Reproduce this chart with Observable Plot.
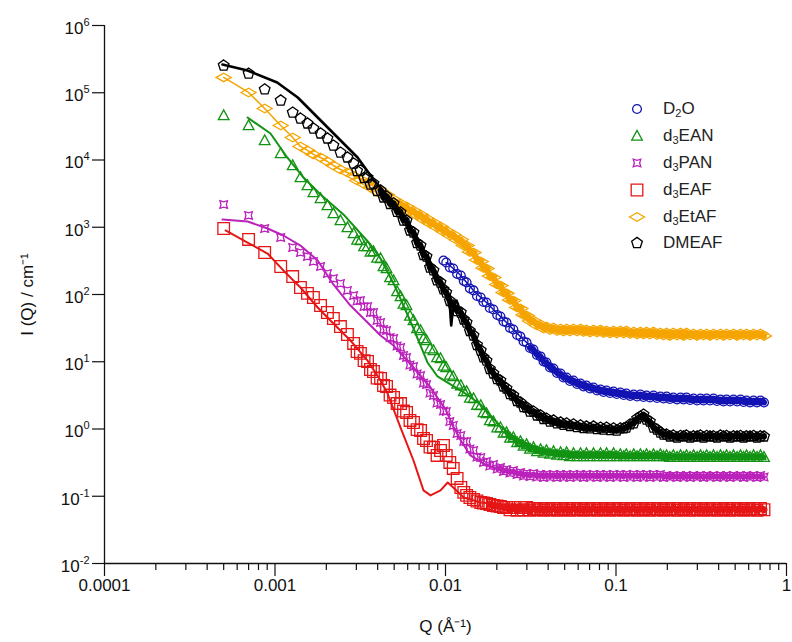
<!DOCTYPE html>
<html><head><meta charset="utf-8">
<script src="https://cdn.jsdelivr.net/npm/d3@7"></script>
<script src="https://cdn.jsdelivr.net/npm/@observablehq/plot@0.6"></script>
<style>
html,body{margin:0;padding:0;background:#fff;}
#wrap{position:relative;width:792px;height:642px;font-family:"Liberation Sans",Arial,sans-serif;}
#legend{position:absolute;left:624px;top:96px;}
.row{display:flex;align-items:center;height:26.8px;font-size:17px;color:#222;white-space:nowrap;}
.row svg{width:26px;height:20px;margin-right:13px;flex:none;}
.row sub{font-size:11px;vertical-align:-3px;line-height:0;}
</style></head><body><div id="wrap"><div id="legend"></div></div>
<script>
// ---------- data ----------
const seriesNames = ["D2O", "d3EAN", "d3PAN", "d3EAF", "d3EtAF", "DMEAF"];

// Q grid of the first set of measured points (Å⁻¹)
const Q = [0.0005,0.0007,0.00087,0.00108,0.00127,0.00141,0.00155,0.00168,0.00185,0.00203,
0.0022,0.00242,0.00266,0.00289,0.00317,0.00349,0.00378,0.00416,0.00451,0.00496,
0.00545,0.00591,0.00649,0.00714,0.00774,0.0085,0.00935,0.0101,0.0111,0.0123,
0.0133,0.0146,0.0161,0.0174,0.0191,0.021,0.0228,0.025,0.0275,0.0299,
0.0328,0.0361,0.0391,0.043,0.0473,0.0513,0.0563,0.0619,0.0671,0.0738,
0.0811,0.088,0.0967,0.106,0.115,0.127,0.139,0.151,0.166,0.182,
0.198,0.217,0.239,0.259,0.285,0.313,0.34,0.373,0.41,0.445,
0.489,0.537,0.583,0.641,0.704];

const I_D2O = [null,null,null,null,null,null,null,null,null,null,
null,null,null,null,null,null,null,null,null,null,
null,null,null,null,null,null,null,299,244,192,
151,115,90.2,76.0,59.8,47.1,38.3,30.2,23.7,19.3,
15.2,12.0,9.75,7.94,6.69,5.83,5.26,4.75,4.43,4.14,
3.87,3.74,3.61,3.49,3.37,3.26,3.26,3.15,3.15,3.04,
3.04,2.94,2.94,2.94,2.84,2.84,2.84,2.84,2.75,2.75,
2.75,2.75,2.65,2.65,2.65];
const I_d3EAN = [45900,32600,19500,12500,8280,5490,4180,3290,2680,2110,
1600,1260,992,807,635,517,436,343,244,162,
93.4,68.6,41.1,29.2,20.7,14.7,11.2,8.21,6.04,4.43,
3.61,2.84,2.24,1.70,1.29,1.05,0.887,0.748,0.652,0.588,
0.531,0.496,0.479,0.463,0.447,0.447,0.432,0.432,0.432,0.432,
0.432,0.432,0.432,0.418,0.418,0.418,0.418,0.418,0.418,0.418,
0.404,0.404,0.404,0.404,0.404,0.404,0.404,0.404,0.404,0.404,
0.404,0.404,0.404,0.404,0.404];
const I_d3PAN = [2180,1500,958,704,500,421,367,310,261,205,
173,146,115,96.6,81.4,66.3,54.0,38.3,29.2,22.2,
16.3,11.6,8.50,6.25,4.59,3.15,2.31,1.82,1.13,0.80,
0.652,0.479,0.377,0.329,0.297,0.268,0.250,0.241,0.225,0.218,
0.218,0.211,0.211,0.211,0.211,0.211,0.211,0.211,0.211,0.211,
0.211,0.211,0.211,0.211,0.211,0.211,0.211,0.211,0.211,0.211,
0.203,0.203,0.203,0.203,0.203,0.203,0.203,0.203,0.203,0.203,
0.203,0.203,0.203,0.203,0.203];
const I_d3EAF = [958,658,421,261,185,127,104,90.2,68.6,54.0,
44.0,33.4,25.4,18.7,13.3,10.1,7.16,5.64,4.29,2.94,
2.39,1.76,1.25,0.95,0.675,0.531,0.479,0.404,0.259,0.135,
0.103,0.0895,0.0807,0.078,0.0729,0.0704,0.068,0.068,0.068,0.068,
0.0657,0.0657,0.0657,0.0657,0.0657,0.0657,0.0657,0.0657,0.0657,0.0657,
0.0657,0.0657,0.0657,0.0657,0.0657,0.0657,0.0657,0.0657,0.0657,0.0657,
0.0657,0.0657,0.0657,0.0657,0.0657,0.0657,0.0657,0.0657,0.0657,0.0657,
0.0657,0.0657,0.0657,0.0657,0.0657];
const I_d3EtAF = [169000,101000,58300,32600,21600,15900,13900,12100,10900,9500,
8280,7220,6520,5880,5130,4630,4040,3520,3070,2590,
2260,2040,1780,1550,1350,1180,1030,895,780,658,
535,421,310,244,179,136,104,81.4,61.9,48.7,
41.1,35.8,33.4,32.3,31.2,31.2,31.2,31.2,30.2,30.2,
30.2,29.2,29.2,29.2,29.2,28.2,28.2,28.2,28.2,27.2,
27.2,27.2,27.2,27.2,26.3,26.3,26.3,26.3,26.3,26.3,
26.3,26.3,26.3,26.3,26.3];
const I_DMEAF = [254000,193000,112000,76700,50800,41400,34900,29400,24800,20900,
16400,12900,10900,8870,6980,5490,4470,3520,2870,2260,
1660,1260,836,535,367,228,151,107,68.6,54.0,
38.3,24.6,14.7,10.4,6.69,5.26,4.00,3.15,2.48,2.09,
1.82,1.59,1.43,1.34,1.25,1.21,1.17,1.13,1.09,1.09,
1.05,1.05,1.02,1.02,1.05,1.21,1.53,1.38,1.05,0.887,
0.828,0.80,0.79,0.80,0.78,0.80,0.79,0.78,0.80,0.79,
0.78,0.79,0.78,0.79,0.78];

// Q grid of the second (overlapping) set of measured points
const Q2 = [0.00303,0.00333,0.00363,0.00397,0.00433,0.00473,0.0052,0.00567,0.00619,0.00681,0.00743,0.00811,0.00892,
0.00973,0.0106,0.0117,0.0128,0.0139,0.0153,0.0167,0.0182,0.0201,0.0219,
0.0239,0.0263,0.0287,0.0313,0.0344,0.0376,0.041,0.0451,0.0492,0.0537,
0.0591,0.0645,0.0704,0.0774,0.0845,0.0923,0.101,0.111,0.121,0.133,
0.145,0.158,0.174,0.19,0.207,0.228,0.249,0.272,0.299,0.326,
0.356,0.391,0.427,0.466,0.513,0.56,0.611,0.671,0.738];

const I2_D2O = [null,null,null,null,null,null,null,null,null,null,null,null,null,
320,252,202,159,123,95.0,77.3,63.0,49.6,39.7,
31.8,25.0,20.0,16.0,12.6,10.1,8.21,6.80,5.83,5.17,
4.67,4.29,4.00,3.74,3.55,3.43,3.31,3.20,3.10,3.04,
2.99,2.94,2.89,2.84,2.79,2.75,2.75,2.70,2.65,2.65,
2.65,2.61,2.56,2.56,2.56,2.52,2.48,2.48,2.48];
const I2_d3EAN = [646,517,429,349,261,179,111,72.2,47.9,31.2,22.2,15.7,11.6,
8.65,6.35,4.67,3.61,2.89,2.27,1.76,1.34,1.05,0.872,
0.735,0.630,0.559,0.504,0.463,0.440,0.425,0.411,0.404,0.39,
0.39,0.39,0.39,0.39,0.39,0.39,0.39,0.39,0.39,0.39,
0.39,0.39,0.39,0.39,0.38,0.38,0.38,0.38,0.38,0.38,
0.38,0.38,0.38,0.38,0.38,0.38,0.38,0.38,0.38];
const I2_d3PAN = [80.1,66.3,54.0,41.1,30.2,22.9,17.2,12.4,8.95,6.57,4.83,3.43,2.44,
1.85,1.29,0.857,0.652,0.504,0.383,0.318,0.282,0.254,0.233,
0.222,0.211,0.200,0.197,0.193,0.19,0.193,0.19,0.193,0.19,
0.193,0.19,0.193,0.19,0.193,0.19,0.193,0.19,0.193,0.19,
0.193,0.19,0.193,0.19,0.193,0.19,0.193,0.19,0.193,0.19,
0.193,0.19,0.193,0.19,0.193,0.19,0.193,0.19,0.193];
const I2_d3EAF = [14.2,10.4,7.67,5.73,4.43,3.20,2.39,1.85,1.34,0.98,0.722,0.540,0.404,
0.568,0.318,0.184,0.114,0.0958,0.085,0.0794,0.0754,0.0716,0.068,
0.063,0.062,0.063,0.062,0.063,0.062,0.063,0.062,0.063,0.062,
0.063,0.062,0.063,0.062,0.063,0.062,0.063,0.062,0.063,0.062,
0.063,0.062,0.063,0.062,0.063,0.062,0.063,0.062,0.063,0.062,
0.063,0.062,0.063,0.062,0.063,0.062,0.063,0.062,0.063];
const I2_d3EtAF = [4960,4400,3900,3400,2970,2540,2180,1930,1720,1500,1300,1140,992,
865,754,646,535,429,326,248,188,141,107,
82.8,64.1,49.6,40.4,34.6,31.2,29.7,28.7,28.2,28.2,
28.2,27.7,27.2,27.2,26.8,26.3,26.3,26.3,25.9,25.4,
25.4,25.4,25.0,24.6,24.2,24.6,24.2,24.6,24.2,24.6,
24.2,24.6,24.2,24.6,24.2,24.6,24.2,24.6,24.2];
const I2_DMEAF = [6860,5400,4320,3460,2770,2220,1690,1260,895,583,387,252,162,
119,80.1,56.8,42.5,28.7,17.7,11.6,7.80,5.54,4.29,
3.31,2.61,2.12,1.82,1.59,1.41,1.29,1.21,1.15,1.11,
1.07,1.03,1.02,1.00,0.98,0.966,0.95,1.02,1.17,1.43,
1.64,1.29,0.98,0.828,0.774,0.748,0.774,0.748,0.774,0.748,
0.774,0.748,0.774,0.748,0.774,0.748,0.774,0.748,0.774];

// model fits (lines)
const fitQ_DMEAF = [0.000492,0.00069,0.00103,0.00136,0.00178,0.00233,0.00305,0.00378,0.00496,0.00649,0.00817,0.00935,0.0101,0.0106,0.0108,0.0111,0.0116,0.0123,0.0146,0.0191,0.025,0.0328,0.043,0.0811,0.115,0.127,0.139,0.151,0.166,0.198,0.704];
const fitI_DMEAF = [263000,214000,142000,85000,42800,21600,10900,5130,2330,865,299,161,107,68.6,34.6,68.6,81.4,54.0,24.6,6.69,3.15,1.76,1.29,1.02,1.05,1.21,1.48,1.34,1.05,0.828,0.79];
const fitQ_d3EAN = [0.00069,0.000941,0.00118,0.00147,0.00185,0.00252,0.00363,0.00416,0.00496,0.00567,0.00649,0.00714,0.00784,0.00898,0.0103,0.0128,0.0161,0.021,0.0275,0.0391,0.0811,0.704];
const fitI_d3EAN = [42800,24800,10900,5490,3070,1550,554,343,146,68.6,31.2,17.4,9.75,6.04,4.91,3.49,2.31,1.09,0.652,0.479,0.418,0.404];
const fitQ_d3PAN = [0.000492,0.00069,0.000904,0.00112,0.00141,0.00178,0.0022,0.00277,0.00349,0.00416,0.00496,0.00649,0.00817,0.0101,0.0111,0.0123,0.014,0.0174,0.021,0.0315,0.704];
const fitI_d3PAN = [1300,1220,958,754,535,320,141,68.6,38.3,24.6,17.4,8.21,4.14,1.88,1.09,0.675,0.404,0.287,0.250,0.218,0.203];
const fitQ_d3EAF = [0.000513,0.00069,0.000904,0.00112,0.00141,0.00178,0.0022,0.00277,0.00349,0.00416,0.00457,0.00545,0.00649,0.00743,0.00817,0.00935,0.0103,0.0111,0.0128,0.0161,0.025,0.0413,0.704];
const fitI_d3EAF = [895,593,407,228,127,64.1,37.1,20.7,10.4,5.26,3.37,1.05,0.340,0.122,0.103,0.122,0.160,0.135,0.0958,0.0807,0.0729,0.0657,0.0657];

// axis ticks
const xMajor = [0.0001, 0.001, 0.01, 0.1, 1];
const xLabels = ["0.0001", "0.001", "0.01", "0.1", "1"];
const yMajor = [1e-2, 1e-1, 1, 1e1, 1e2, 1e3, 1e4, 1e5, 1e6];
const yExponents = ["-2", "-1", "0", "1", "2", "3", "4", "5", "6"];

// ---------- styling ----------
const colors = {D2O:"#1414b4", d3EAN:"#139313", d3PAN:"#bb22bb", d3EAF:"#e61616", d3EtAF:"#f5a400", DMEAF:"#000000"};
const pentagon = {draw(ctx, size){const R=Math.sqrt(size/Math.PI);for(let k=0;k<5;k++){const a=-Math.PI/2+k*2*Math.PI/5;const x=R*Math.cos(a),y=R*Math.sin(a);k?ctx.lineTo(x,y):ctx.moveTo(x,y);}ctx.closePath();}};
const wideDiamond = {draw(ctx, size){const R=Math.sqrt(size/Math.PI);ctx.moveTo(-1.5*R,0);ctx.lineTo(0,-0.85*R);ctx.lineTo(1.5*R,0);ctx.lineTo(0,0.85*R);ctx.closePath();}};
const pinched = {draw(ctx, size){const a=Math.sqrt(size/Math.PI),b=a*0.7;ctx.moveTo(-a,-a);ctx.lineTo(0,-b);ctx.lineTo(a,-a);ctx.lineTo(b,0);ctx.lineTo(a,a);ctx.lineTo(0,b);ctx.lineTo(-a,a);ctx.lineTo(-b,0);ctx.closePath();}};
const square = {draw(ctx, size){const a=Math.sqrt(size/Math.PI);ctx.moveTo(-a,-a);ctx.lineTo(a,-a);ctx.lineTo(a,a);ctx.lineTo(-a,a);ctx.closePath();}};
const triangle = {draw(ctx, size){const R=Math.sqrt(size/Math.PI);ctx.moveTo(0,-R);ctx.lineTo(0.95*R,0.75*R);ctx.lineTo(-0.95*R,0.75*R);ctx.closePath();}};
const circle = {draw(ctx, size){const R=Math.sqrt(size/Math.PI);ctx.moveTo(R,0);ctx.arc(0,0,R,0,2*Math.PI);}};
const symbols = {D2O:circle, d3EAN:triangle, d3PAN:pinched, d3EAF:square, d3EtAF:wideDiamond, DMEAF:pentagon};
const radii = {D2O:4.4, d3EAN:5.6, d3PAN:3.8, d3EAF:5.8, d3EtAF:5, DMEAF:5.6};
const lineW = {D2O:1.5, d3EAN:2, d3PAN:2, d3EAF:2, d3EtAF:1.5, DMEAF:2.6};
const bandW = {D2O:6, d3EAN:5, d3PAN:4, d3EAF:7, d3EtAF:6, DMEAF:6};
const bandFrom = {D2O:0.03, d3EAN:0.022, d3PAN:0.02, d3EAF:0.018, d3EtAF:0.005, DMEAF:0.004};

const rows = (qs, is) => qs.map((q, i) => ({Q: q, I: is[i]})).filter(d => d.I != null);
const markerRows = {
  D2O: rows(Q, I_D2O).concat(rows(Q2, I2_D2O)),
  d3EAN: rows(Q, I_d3EAN).concat(rows(Q2, I2_d3EAN)),
  d3PAN: rows(Q, I_d3PAN).concat(rows(Q2, I2_d3PAN)),
  d3EAF: rows(Q, I_d3EAF).concat(rows(Q2, I2_d3EAF)),
  d3EtAF: rows(Q, I_d3EtAF).concat(rows(Q2, I2_d3EtAF)),
  DMEAF: rows(Q, I_DMEAF).concat(rows(Q2, I2_DMEAF))};
const fitRows = {D2O: rows(Q, I_D2O), d3EtAF: rows(Q, I_d3EtAF),
  d3EAN: rows(fitQ_d3EAN, fitI_d3EAN), d3PAN: rows(fitQ_d3PAN, fitI_d3PAN),
  d3EAF: rows(fitQ_d3EAF, fitI_d3EAF), DMEAF: rows(fitQ_DMEAF, fitI_DMEAF)};

const order = ["d3EtAF", "D2O", "d3EAF", "d3PAN", "d3EAN", "DMEAF"];
const dataMarks = [];
for (const k of order) {
  // dense overlapping points merge into a solid band
  const band = markerRows[k].filter(d => d.Q >= bandFrom[k]).sort((a, b) => a.Q - b.Q);
  dataMarks.push(Plot.line(band, {x: "Q", y: "I", stroke: colors[k], strokeWidth: bandW[k]}));
  dataMarks.push(Plot.dot(markerRows[k], {x: "Q", y: "I", symbol: symbols[k], r: radii[k], stroke: colors[k], strokeWidth: 1.3, fill: "none"}));
  dataMarks.push(Plot.line(fitRows[k], {x: "Q", y: "I", stroke: colors[k], strokeWidth: lineW[k]}));
}

const xMinor = [];
for (const d of [1e-4, 1e-3, 1e-2, 1e-1]) for (let m = 2; m <= 9; m++) xMinor.push(m * d);

const chart = Plot.plot({
  width: 792, height: 642,
  marginLeft: 104, marginRight: 6, marginTop: 25, marginBottom: 79,
  style: {fontFamily: '"Liberation Sans", Arial, sans-serif', fontSize: "17px", color: "#111", background: "#fff", overflow: "visible"},
  x: {type: "log", domain: [1e-4, 1]},
  y: {type: "log", domain: [1e-2, 1e6]},
  marks: [
    Plot.axisX(xMinor, {tickSize: 7, tickFormat: () => "", label: null, strokeWidth: 1.2}),
    Plot.axisX(xMajor, {tickSize: 13, tickPadding: 2, strokeWidth: 1.2,
      tickFormat: d => xLabels[xMajor.indexOf(d)],
      label: "Q (Å⁻¹)", labelAnchor: "center", labelOffset: 68, labelArrow: "none"}),
    Plot.axisY(yMajor, {tickSize: 12, tickPadding: 3, strokeWidth: 1.2,
      tickFormat: d => "10^" + yExponents[yMajor.indexOf(d)],
      label: "I (Q) / cm⁻¹", labelAnchor: "center", labelOffset: 84, labelArrow: "none"}),
    Plot.ruleX([1e-4], {stroke: "#111", strokeWidth: 1.3}),
    Plot.ruleY([1e-2], {stroke: "#111", strokeWidth: 1.3}),
    ...dataMarks
  ]
});

// superscript exponents on the y tick labels
const NS = "http://www.w3.org/2000/svg";
chart.querySelectorAll('[aria-label="y-axis tick label"] text').forEach(t => {
  const parts = t.textContent.split("^");
  if (parts.length < 2) return;
  t.textContent = "";
  const a = document.createElementNS(NS, "tspan"); a.textContent = parts[0]; a.setAttribute("dy", "3");
  const b = document.createElementNS(NS, "tspan"); b.textContent = parts[1]; b.setAttribute("dy", "-8"); b.setAttribute("font-size", "11");
  t.append(a, b);
});

const wrap = document.getElementById("wrap");
wrap.insertBefore(chart, wrap.firstChild);

// legend
const legend = document.getElementById("legend");
for (const name of seriesNames) {
  const sym = d3.symbol(symbols[name], radii[name] * radii[name] * Math.PI)();
  const row = document.createElement("div");
  row.className = "row";
  row.innerHTML = `<svg viewBox="0 0 26 20"><path transform="translate(13,10)" d="${sym}" fill="none" stroke="${colors[name]}" stroke-width="1.3"/></svg><span>${name.replace(/^(\D)(\d)/, "$1<sub>$2</sub>")}</span>`;
  legend.appendChild(row);
}
</script></body></html>
